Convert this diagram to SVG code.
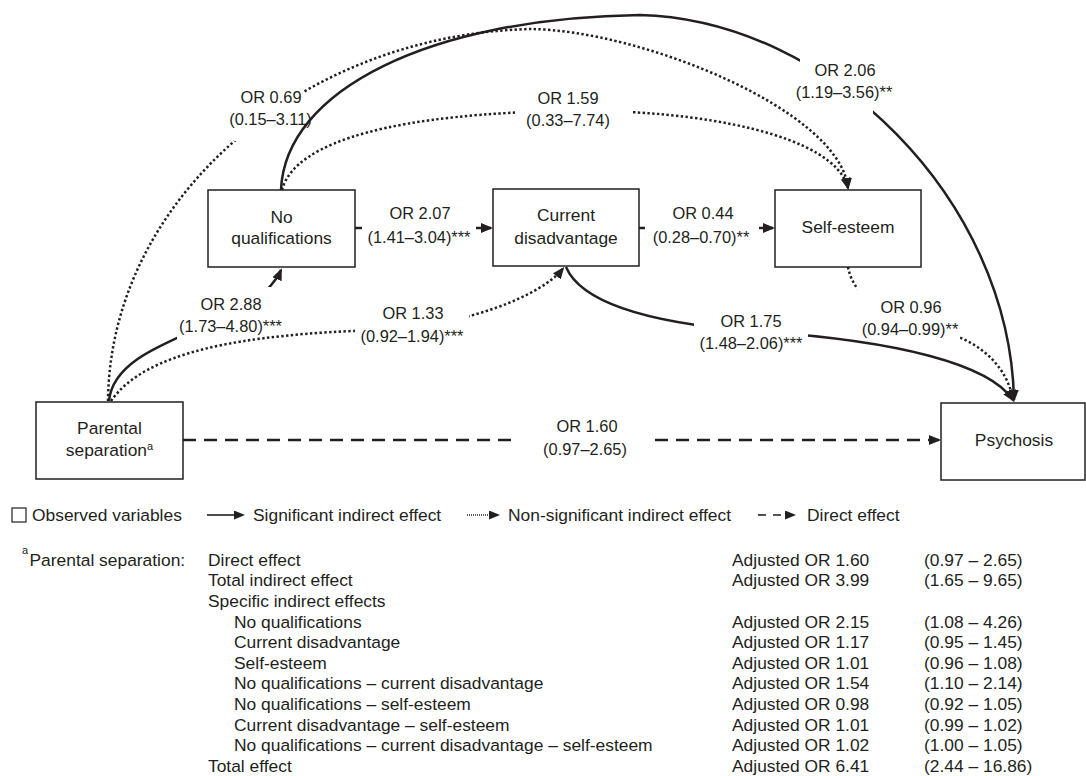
<svg xmlns="http://www.w3.org/2000/svg" width="1086" height="776" viewBox="0 0 1086 776">
<defs>
<style>
text{font-family:"Liberation Sans",Arial,Helvetica,sans-serif;fill:#231f20}
.nt{font-size:17.4px;text-anchor:middle}
.lb{font-size:16.4px;text-anchor:middle}
.tx{font-size:17.4px}
.box{fill:#fff;stroke:#231f20;stroke-width:1.5}
.solid{fill:none;stroke:#231f20;stroke-width:2.5}
.dot{fill:none;stroke:#231f20;stroke-width:2.5;stroke-dasharray:2.4 2.4}
.dash{fill:none;stroke:#231f20;stroke-width:2.5;stroke-dasharray:13 8}
.lg{fill:none;stroke:#231f20;stroke-width:1.6}
</style>
<marker id="ah" markerUnits="userSpaceOnUse" viewBox="0 0 12 10" refX="10" refY="5" markerWidth="12" markerHeight="10" orient="auto"><path d="M0,0 L12,5 L0,10 z" fill="#231f20"/></marker>
<marker id="ahs" markerUnits="userSpaceOnUse" viewBox="0 0 11 9" refX="0" refY="4.5" markerWidth="11" markerHeight="9" orient="auto"><path d="M0,0 L11,4.5 L0,9 z" fill="#231f20"/></marker>
<mask id="gA" maskUnits="userSpaceOnUse" x="0" y="0" width="1086" height="776"><rect width="1086" height="776" fill="#fff"/><rect x="800" y="48" width="73" height="70" fill="#000"/></mask>
<mask id="gB" maskUnits="userSpaceOnUse" x="0" y="0" width="1086" height="776"><rect width="1086" height="776" fill="#fff"/><rect x="234" y="74" width="70" height="67" fill="#000"/></mask>
<mask id="gC" maskUnits="userSpaceOnUse" x="0" y="0" width="1086" height="776"><rect width="1086" height="776" fill="#fff"/><rect x="515" y="95" width="116" height="30" fill="#000"/></mask>
<mask id="gD" maskUnits="userSpaceOnUse" x="0" y="0" width="1086" height="776"><rect width="1086" height="776" fill="#fff"/><rect x="177" y="287" width="94" height="58" fill="#000"/></mask>
<mask id="gE" maskUnits="userSpaceOnUse" x="0" y="0" width="1086" height="776"><rect width="1086" height="776" fill="#fff"/><rect x="355" y="300" width="114" height="45" fill="#000"/></mask>
<mask id="gF" maskUnits="userSpaceOnUse" x="0" y="0" width="1086" height="776"><rect width="1086" height="776" fill="#fff"/><rect x="694" y="300" width="114" height="50" fill="#000"/></mask>
<mask id="gG" maskUnits="userSpaceOnUse" x="0" y="0" width="1086" height="776"><rect width="1086" height="776" fill="#fff"/><rect x="857" y="280" width="103" height="65" fill="#000"/></mask>
</defs>
<rect width="1086" height="776" fill="#fff"/>

<g id="connectors">
  <path class="solid" mask="url(#gA)" marker-end="url(#ah)" d="M281,190 C285,90 430,18 640,15 C830,20 1010,200 1014,400"/>
  <path class="dot" mask="url(#gB)" marker-end="url(#ah)" d="M108,401 C110,200 300,35 530,29 C640,30 840,110 848,188"/>
  <path class="dot" mask="url(#gC)" marker-end="url(#ah)" d="M282,190 C295,140 400,113 570,111 C700,109 835,135 848,188"/>
  <path class="solid" mask="url(#gD)" marker-end="url(#ah)" d="M109,401 C115,335 255,330 281,270"/>
  <path class="dot" mask="url(#gE)" marker-end="url(#ah)" d="M111,401 C145,352 240,334 380,330 C470,325 542,295 563,268.5"/>
  <path class="solid" mask="url(#gF)" marker-end="url(#ah)" d="M566,267 C580,300 640,322 750,331 C900,340 990,365 1013,400"/>
  <path class="dot" mask="url(#gG)" marker-end="url(#ah)" d="M848,267 C855,305 900,320 950,334 C985,345 1008,370 1013,400"/>
  <line class="solid" x1="355" y1="228" x2="362" y2="228"/>
  <line class="solid" x1="476" y1="228" x2="491" y2="228" marker-end="url(#ah)"/>
  <line class="solid" x1="639" y1="228" x2="645" y2="228"/>
  <line class="solid" x1="759" y1="228" x2="773" y2="228" marker-end="url(#ah)"/>
  <line class="dash" x1="183" y1="440" x2="511" y2="440"/>
  <line class="dash" x1="655" y1="440" x2="939" y2="440" marker-end="url(#ah)"/>
</g>

<g id="edge-labels">
  <text class="lb" x="271" y="103">OR 0.69</text><text class="lb" x="270.5" y="125">(0.15–3.11)</text>
  <text class="lb" x="568" y="104">OR 1.59</text><text class="lb" x="568" y="126">(0.33–7.74)</text>
  <text class="lb" x="845" y="76">OR 2.06</text><text class="lb" x="844" y="98">(1.19–3.56)**</text>
  <text class="lb" x="420" y="219">OR 2.07</text><text class="lb" x="419" y="243">(1.41–3.04)***</text>
  <text class="lb" x="703" y="219">OR 0.44</text><text class="lb" x="701" y="243">(0.28–0.70)**</text>
  <text class="lb" x="231" y="310">OR 2.88</text><text class="lb" x="230.5" y="332">(1.73–4.80)***</text>
  <text class="lb" x="413" y="319">OR 1.33</text><text class="lb" x="412" y="342">(0.92–1.94)***</text>
  <text class="lb" x="751" y="327">OR 1.75</text><text class="lb" x="751" y="349">(1.48–2.06)***</text>
  <text class="lb" x="911" y="313">OR 0.96</text><text class="lb" x="910" y="335">(0.94–0.99)**</text>
  <text class="lb" x="587" y="432">OR 1.60</text><text class="lb" x="585" y="455">(0.97–2.65)</text>
</g>

<g id="node-noqual">
  <rect class="box" x="208" y="190" width="147" height="77"/>
  <text class="nt" x="281.5" y="223">No</text>
  <text class="nt" x="281.5" y="244">qualifications</text>
</g>
<g id="node-current">
  <rect class="box" x="493" y="189" width="146" height="77"/>
  <text class="nt" x="566" y="221">Current</text>
  <text class="nt" x="566" y="244">disadvantage</text>
</g>
<g id="node-selfesteem">
  <rect class="box" x="775" y="190" width="146" height="77"/>
  <text class="nt" x="848" y="233">Self-esteem</text>
</g>
<g id="node-parental">
  <rect class="box" x="36" y="402" width="147" height="77"/>
  <text class="nt" x="109.5" y="434">Parental</text>
  <text class="nt" x="109.5" y="456">separation<tspan font-size="11" dy="-6">a</tspan></text>
</g>
<g id="node-psychosis">
  <rect class="box" x="941" y="403" width="144" height="77"/>
  <text class="nt" x="1014" y="446">Psychosis</text>
</g>

<g id="legend">
  <rect x="12" y="508" width="14" height="14" fill="none" stroke="#231f20" stroke-width="1.2"/>
  <text class="tx" x="32" y="521">Observed variables</text>
  <line class="lg" x1="207" y1="515" x2="234" y2="515" marker-end="url(#ahs)"/>
  <text class="tx" x="253" y="521">Significant indirect effect</text>
  <line class="lg" x1="467" y1="515" x2="489" y2="515" stroke-width="1.2" stroke-dasharray="1 1" marker-end="url(#ahs)"/>
  <text class="tx" x="508" y="521">Non-significant indirect effect</text>
  <line class="lg" x1="758" y1="515" x2="785" y2="515" stroke-dasharray="8 7" marker-end="url(#ahs)"/>
  <text class="tx" x="807" y="521">Direct effect</text>
</g>

<g id="table">
  <text x="22" y="554" font-size="11">a</text>
  <text class="tx" x="29.5" y="565.5">Parental separation:</text>
  <text class="tx" x="208" y="565.5">Direct effect</text>
  <text class="tx" x="208" y="586.2">Total indirect effect</text>
  <text class="tx" x="208" y="606.8">Specific indirect effects</text>
  <text class="tx" x="234" y="627.5">No qualifications</text>
  <text class="tx" x="234" y="648.1">Current disadvantage</text>
  <text class="tx" x="234" y="668.8">Self-esteem</text>
  <text class="tx" x="234" y="689.4">No qualifications – current disadvantage</text>
  <text class="tx" x="234" y="710.1">No qualifications – self-esteem</text>
  <text class="tx" x="234" y="730.7">Current disadvantage – self-esteem</text>
  <text class="tx" x="234" y="751.4">No qualifications – current disadvantage – self-esteem</text>
  <text class="tx" x="208" y="772">Total effect</text>

  <text class="tx" x="732" y="565.5">Adjusted OR 1.60</text>
  <text class="tx" x="732" y="586.2">Adjusted OR 3.99</text>
  <text class="tx" x="732" y="627.5">Adjusted OR 2.15</text>
  <text class="tx" x="732" y="648.1">Adjusted OR 1.17</text>
  <text class="tx" x="732" y="668.8">Adjusted OR 1.01</text>
  <text class="tx" x="732" y="689.4">Adjusted OR 1.54</text>
  <text class="tx" x="732" y="710.1">Adjusted OR 0.98</text>
  <text class="tx" x="732" y="730.7">Adjusted OR 1.01</text>
  <text class="tx" x="732" y="751.4">Adjusted OR 1.02</text>
  <text class="tx" x="732" y="772">Adjusted OR 6.41</text>

  <text class="tx" x="924" y="565.5">(0.97 – 2.65)</text>
  <text class="tx" x="924" y="586.2">(1.65 – 9.65)</text>
  <text class="tx" x="924" y="627.5">(1.08 – 4.26)</text>
  <text class="tx" x="924" y="648.1">(0.95 – 1.45)</text>
  <text class="tx" x="924" y="668.8">(0.96 – 1.08)</text>
  <text class="tx" x="924" y="689.4">(1.10 – 2.14)</text>
  <text class="tx" x="924" y="710.1">(0.92 – 1.05)</text>
  <text class="tx" x="924" y="730.7">(0.99 – 1.02)</text>
  <text class="tx" x="924" y="751.4">(1.00 – 1.05)</text>
  <text class="tx" x="924" y="772">(2.44 – 16.86)</text>
</g>
</svg>
